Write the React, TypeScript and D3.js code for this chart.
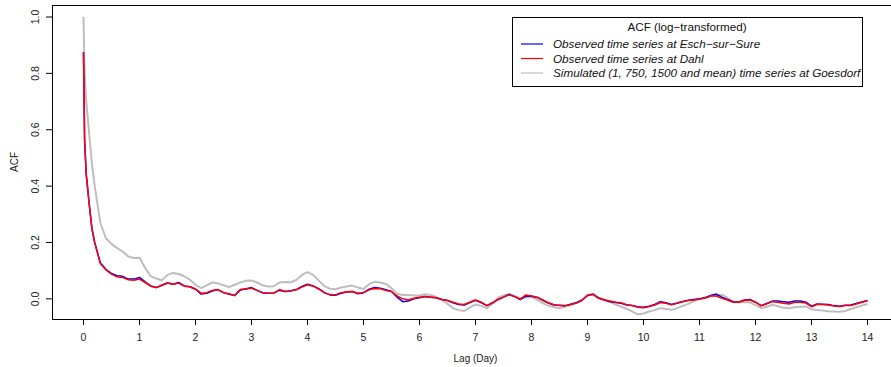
import React from 'react';
import * as d3 from 'd3';

// lag grid (days): dense near zero, then every 0.1 day
const LAG_HEAD = [0, 0.02, 0.05, 0.1, 0.15, 0.2, 0.3, 0.4];
const LAG_TAIL = d3.range(5, 141).map((i) => i / 10);
const LAGS = LAG_HEAD.concat(LAG_TAIL);

const ESCH = [
    0.876, 0.56, 0.44, 0.34, 0.25, 0.2, 0.128, 0.105,
    0.09, 0.082, 0.08, 0.07, 0.07, 0.076, 0.06, 0.046, 0.04, 0.048,
    0.056, 0.052, 0.058, 0.046, 0.043, 0.034, 0.017, 0.02, 0.028, 0.033,
    0.022, 0.016, 0.012, 0.031, 0.035, 0.04, 0.03, 0.022, 0.02, 0.021,
    0.03, 0.026, 0.029, 0.033, 0.044, 0.052, 0.046, 0.036, 0.022, 0.014,
    0.013, 0.02, 0.024, 0.026, 0.018, 0.022, 0.034, 0.04, 0.038, 0.032,
    0.026, 0.006, -0.01, -0.008, 0.0, 0.004, 0.008, 0.006, 0.004, -0.002,
    -0.006, -0.014, -0.02, -0.022, -0.013, -0.005, -0.013, -0.024, -0.015, -0.003,
    0.006, 0.016, 0.008, -0.003, 0.01, 0.009, 0.005, -0.005, -0.015, -0.022,
    -0.023, -0.024, -0.019, -0.014, -0.005, 0.012, 0.016, 0.003, -0.004, -0.01,
    -0.013, -0.016, -0.022, -0.024, -0.028, -0.03, -0.026, -0.02, -0.01, -0.014,
    -0.02, -0.015, -0.009, -0.005, -0.002, 0.0, 0.004, 0.012, 0.017, 0.006,
    -0.002, -0.01, -0.011, -0.004, -0.002, -0.012, -0.024, -0.016, -0.008, -0.008,
    -0.01, -0.012, -0.008, -0.008, -0.012, -0.026, -0.018, -0.019, -0.02, -0.024,
    -0.026, -0.023, -0.022, -0.016, -0.011, -0.006,
];

const DAHL = [
    0.876, 0.56, 0.44, 0.34, 0.25, 0.2, 0.125, 0.103,
    0.088, 0.078, 0.076, 0.068, 0.066, 0.07, 0.058, 0.045, 0.04, 0.048,
    0.056, 0.052, 0.056, 0.045, 0.043, 0.035, 0.02, 0.022, 0.03, 0.033,
    0.022, 0.018, 0.012, 0.033, 0.036, 0.038, 0.03, 0.021, 0.02, 0.02,
    0.033, 0.026, 0.028, 0.032, 0.042, 0.05, 0.045, 0.035, 0.022, 0.015,
    0.014, 0.022, 0.025, 0.026, 0.02, 0.022, 0.032, 0.037, 0.036, 0.03,
    0.026, 0.01, 0.0, -0.004, 0.002, 0.006, 0.008, 0.006, 0.004, -0.002,
    -0.006, -0.012, -0.018, -0.02, -0.012, -0.004, -0.012, -0.024, -0.014, -0.002,
    0.006, 0.014, 0.008, -0.001, 0.014, 0.01, 0.006, -0.004, -0.014, -0.021,
    -0.024, -0.025, -0.02, -0.015, -0.006, 0.012, 0.016, 0.002, -0.004, -0.008,
    -0.012, -0.014, -0.021, -0.024, -0.03, -0.032, -0.027, -0.022, -0.013, -0.016,
    -0.021, -0.016, -0.01, -0.006, -0.004, -0.001, 0.003, 0.01, 0.01, 0.002,
    -0.004, -0.012, -0.012, -0.006, -0.004, -0.012, -0.025, -0.018, -0.01, -0.012,
    -0.016, -0.018, -0.012, -0.012, -0.015, -0.028, -0.02, -0.02, -0.022, -0.025,
    -0.027, -0.024, -0.024, -0.018, -0.012, -0.007,
];

const GOESDORF = [
    1.0, 0.8, 0.7, 0.59, 0.48, 0.4, 0.27, 0.215,
    0.195, 0.18, 0.168, 0.15, 0.145, 0.146, 0.11, 0.08, 0.072, 0.066,
    0.085, 0.092, 0.088, 0.08, 0.068, 0.05, 0.038, 0.048, 0.058, 0.055,
    0.048, 0.042, 0.05, 0.058, 0.064, 0.065, 0.058, 0.048, 0.044, 0.045,
    0.058, 0.06, 0.059, 0.067, 0.085, 0.095, 0.085, 0.065, 0.045, 0.036,
    0.034, 0.04, 0.044, 0.047, 0.04, 0.035, 0.052, 0.061, 0.058, 0.053,
    0.038, 0.018, 0.014, 0.014, 0.012, 0.012, 0.016, 0.014, 0.006, -0.004,
    -0.018, -0.033, -0.04, -0.043, -0.03, -0.02, -0.025, -0.033, -0.018, 0.004,
    0.012, 0.017, 0.01, 0.002, 0.005, 0.006, -0.004, -0.015, -0.024, -0.03,
    -0.033, -0.028, -0.022, -0.014, -0.004, 0.014, 0.018, 0.004, -0.002, -0.01,
    -0.02, -0.028, -0.036, -0.045, -0.055, -0.052, -0.045, -0.04, -0.033, -0.036,
    -0.039, -0.033, -0.025, -0.018, -0.008, -0.001, 0.004, 0.01, 0.014, 0.014,
    0.004, -0.01, -0.012, -0.012, -0.013, -0.022, -0.033, -0.028, -0.021, -0.026,
    -0.032, -0.033, -0.03, -0.028, -0.027, -0.037, -0.04, -0.041, -0.044, -0.045,
    -0.046, -0.043, -0.036, -0.03, -0.024, -0.018,
];

const X_TICKS = d3.range(0, 15);
const Y_TICKS = [0, 0.2, 0.4, 0.6, 0.8, 1.0];

const LEGEND_TITLE = 'ACF (log\u2212transformed)';
const LEGEND_ITEMS = [
    { label: 'Observed time series at Esch\u2212sur\u2212Sure', color: '#0000ff' },
    { label: 'Observed time series at Dahl', color: '#ff0000' },
    { label: 'Simulated (1, 750, 1500 and mean) time series at Goesdorf', color: '#bebebe' },
];

export default function App() {
    const width = 891;
    const height = 367;
    const plot = { left: 52, right: 899, top: 5, bottom: 319 };

    const x = d3.scaleLinear().domain([-0.5625, 14.5625]).range([plot.left, plot.right]);
    const y = d3.scaleLinear().domain([-0.0715, 1.0426]).range([plot.bottom, plot.top]);

    const line = (vals: number[]) =>
        d3
            .line<number>()
            .x((d, i) => x(LAGS[i]))
            .y((d) => y(d))(vals) || '';

    const font = 'Liberation Sans, Arial, Helvetica, sans-serif';
    const legX = 512;
    const legY = 17;

    return (
        <svg
            width={width}
            height={height}
            style={{ position: 'absolute', left: 0, top: 0, background: '#fff' }}
            fontFamily={font}
        >
            <defs>
                <clipPath id="plotclip">
                    <rect x={plot.left} y={plot.top} width={plot.right - plot.left} height={plot.bottom - plot.top} />
                </clipPath>
            </defs>

            <g clipPath="url(#plotclip)" fill="none">
                <path d={line(GOESDORF)} stroke="#bebebe" strokeWidth={2} strokeLinejoin="round" />
                <path d={line(ESCH)} stroke="#0000ff" strokeWidth={1.5} strokeLinejoin="round" />
                <path d={line(DAHL)} stroke="#ff0000" strokeWidth={1.5} strokeLinejoin="round" />
            </g>

            <rect
                x={plot.left + 0.5}
                y={plot.top + 0.5}
                width={plot.right - plot.left}
                height={plot.bottom - plot.top}
                fill="none"
                stroke="#000"
                strokeWidth={1}
            />

            {/* x axis */}
            {X_TICKS.map((t) => (
                <g key={'x' + t} transform={`translate(${x(t)},${plot.bottom})`}>
                    <line y1={0} y2={6} stroke="#000" />
                    <text y={22} textAnchor="middle" fontSize={10.5} fill="#222">
                        {t}
                    </text>
                </g>
            ))}
            <text x={(plot.left + plot.right) / 2} y={362} textAnchor="middle" fontSize={10} fill="#222">
                Lag (Day)
            </text>

            {/* y axis */}
            {Y_TICKS.map((t) => (
                <g key={'y' + t} transform={`translate(${plot.left},${y(t)})`}>
                    <line x1={0} x2={-6} stroke="#000" />
                    <text
                        transform="translate(-13,0) rotate(-90)"
                        textAnchor="middle"
                        fontSize={10.5}
                        fill="#222"
                    >
                        {t.toFixed(1)}
                    </text>
                </g>
            ))}
            <text
                transform={`translate(18,${(plot.top + plot.bottom) / 2}) rotate(-90)`}
                textAnchor="middle"
                fontSize={10}
                fill="#222"
            >
                ACF
            </text>

            {/* legend */}
            <rect x={legX + 0.5} y={legY + 0.5} width={350} height={69} fill="#fff" stroke="#000" />
            <text x={legX + 175} y={legY + 14} textAnchor="middle" fontSize={11.7} fill="#111">
                {LEGEND_TITLE}
            </text>
            {LEGEND_ITEMS.map((it, i) => (
                <g key={it.label} transform={`translate(${legX},${legY + 27 + i * 14.5})`}>
                    <line x1={9} x2={31} y1={0} y2={0} stroke={it.color} strokeWidth={1.2} />
                    <text x={41} y={4} fontSize={11.7} fontStyle="italic" fill="#111">
                        {it.label}
                    </text>
                </g>
            ))}
        </svg>
    );
}
